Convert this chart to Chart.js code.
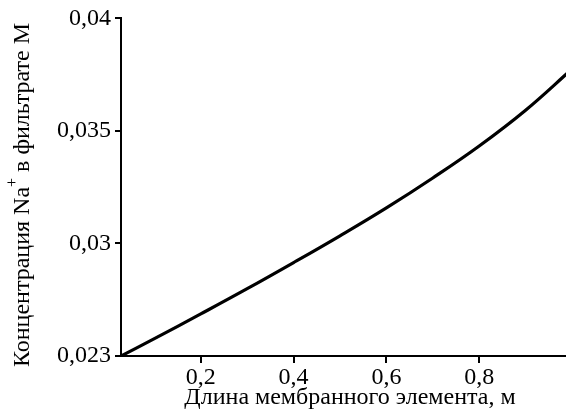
<!doctype html>
<html>
<head>
  <meta charset="utf-8">
  <style>
    html, body { margin: 0; padding: 0; background: #fff; overflow: hidden; }
    canvas { display: block; }
  </style>
</head>
<body>
  <canvas id="naChart" width="590" height="416"></canvas>

  <script src="https://cdn.jsdelivr.net/npm/chart.js"></script>
  <script>
    // длина элемента, м
    var lengths = [0.028, 0.1, 0.2, 0.3, 0.4, 0.5, 0.6, 0.7, 0.8, 0.9, 1.0];
    // концентрация Na+ в фильтрате, М
    var conc = [0.0250, 0.02577, 0.02687, 0.02799, 0.02915, 0.03034, 0.03158, 0.03291, 0.03433, 0.03592, 0.03775];

    var xTicks = [0.2, 0.4, 0.6, 0.8, 1];
    var xTickLabels = ['0,2', '0,4', '0,6', '0,8', '1'];
    var yTicks = [0.025, 0.03, 0.035, 0.04];
    var yTickLabels = ['0,023', '0,03', '0,035', '0,04'];

    var xTitle = 'Длина мембранного элемента, м';
    var yTitleParts = ['Концентрация Na', '+', ' в фильтрате М'];

    var serif = '"Liberation Serif", "Times New Roman", serif';
    var fontSize = 24;

    var points = lengths.map(function (x, i) { return { x: x, y: conc[i] }; });

    // подписи осей рисуем сами (в подписи Y есть верхний индекс)
    var axisTitles = {
      id: 'axisTitles',
      afterDraw: function (chart) {
        var c = chart.ctx;
        c.save();
        c.fillStyle = '#000';
        c.font = fontSize + 'px ' + serif;
        c.textAlign = 'center';
        c.textBaseline = 'middle';
        c.fillText(xTitle, 350, 398);

        c.translate(23, 195);
        c.rotate(-Math.PI / 2);
        var big = fontSize + 'px ' + serif;
        var small = Math.round(fontSize * 0.65) + 'px ' + serif;
        c.font = big;
        var w0 = c.measureText(yTitleParts[0]).width;
        var w2 = c.measureText(yTitleParts[2]).width;
        c.font = small;
        var w1 = c.measureText(yTitleParts[1]).width;
        var x = -(w0 + w1 + w2) / 2;
        c.textAlign = 'left';
        c.font = big;
        c.fillText(yTitleParts[0], x, 0);
        c.font = small;
        c.fillText(yTitleParts[1], x + w0, -10);
        c.font = big;
        c.fillText(yTitleParts[2], x + w0 + w1, 0);
        c.restore();
      }
    };

    var ctx = document.getElementById('naChart').getContext('2d');
    var naChart = new Chart(ctx, {
      type: 'line',
      data: {
        datasets: [{
          data: points,
          borderColor: '#000',
          borderWidth: 3.2,
          pointRadius: 0,
          fill: false,
          tension: 0.4
        }]
      },
      options: {
        responsive: false,
        animation: false,
        events: [],
        layout: { padding: { left: 0, top: 14, right: 18, bottom: 0 } },
        plugins: { legend: { display: false }, tooltip: { enabled: false } },
        scales: {
          x: {
            type: 'linear',
            min: 0.028,
            max: 1,
            afterBuildTicks: function (s) { s.ticks = xTicks.map(function (v) { return { value: v }; }); },
            afterFit: function (s) { s.height = 416 - 356; },
            ticks: {
              color: '#000',
              font: { family: serif, size: fontSize },
              padding: 0,
              maxRotation: 0,
              callback: function (v) { return xTickLabels[xTicks.indexOf(v)]; }
            },
            grid: { drawOnChartArea: false, color: '#000', lineWidth: 2, tickLength: 7 },
            border: { color: '#000', width: 2 }
          },
          y: {
            type: 'linear',
            min: 0.025,
            max: 0.04,
            afterBuildTicks: function (s) { s.ticks = yTicks.map(function (v) { return { value: v }; }); },
            afterFit: function (s) { s.width = 121; },
            ticks: {
              color: '#000',
              font: { family: serif, size: fontSize },
              padding: 4,
              callback: function (v) { return yTickLabels[yTicks.indexOf(v)]; }
            },
            grid: { drawOnChartArea: false, color: '#000', lineWidth: 2, tickLength: 6 },
            border: { color: '#000', width: 2 }
          }
        }
      },
      plugins: [axisTitles]
    });
  </script>
</body>
</html>
